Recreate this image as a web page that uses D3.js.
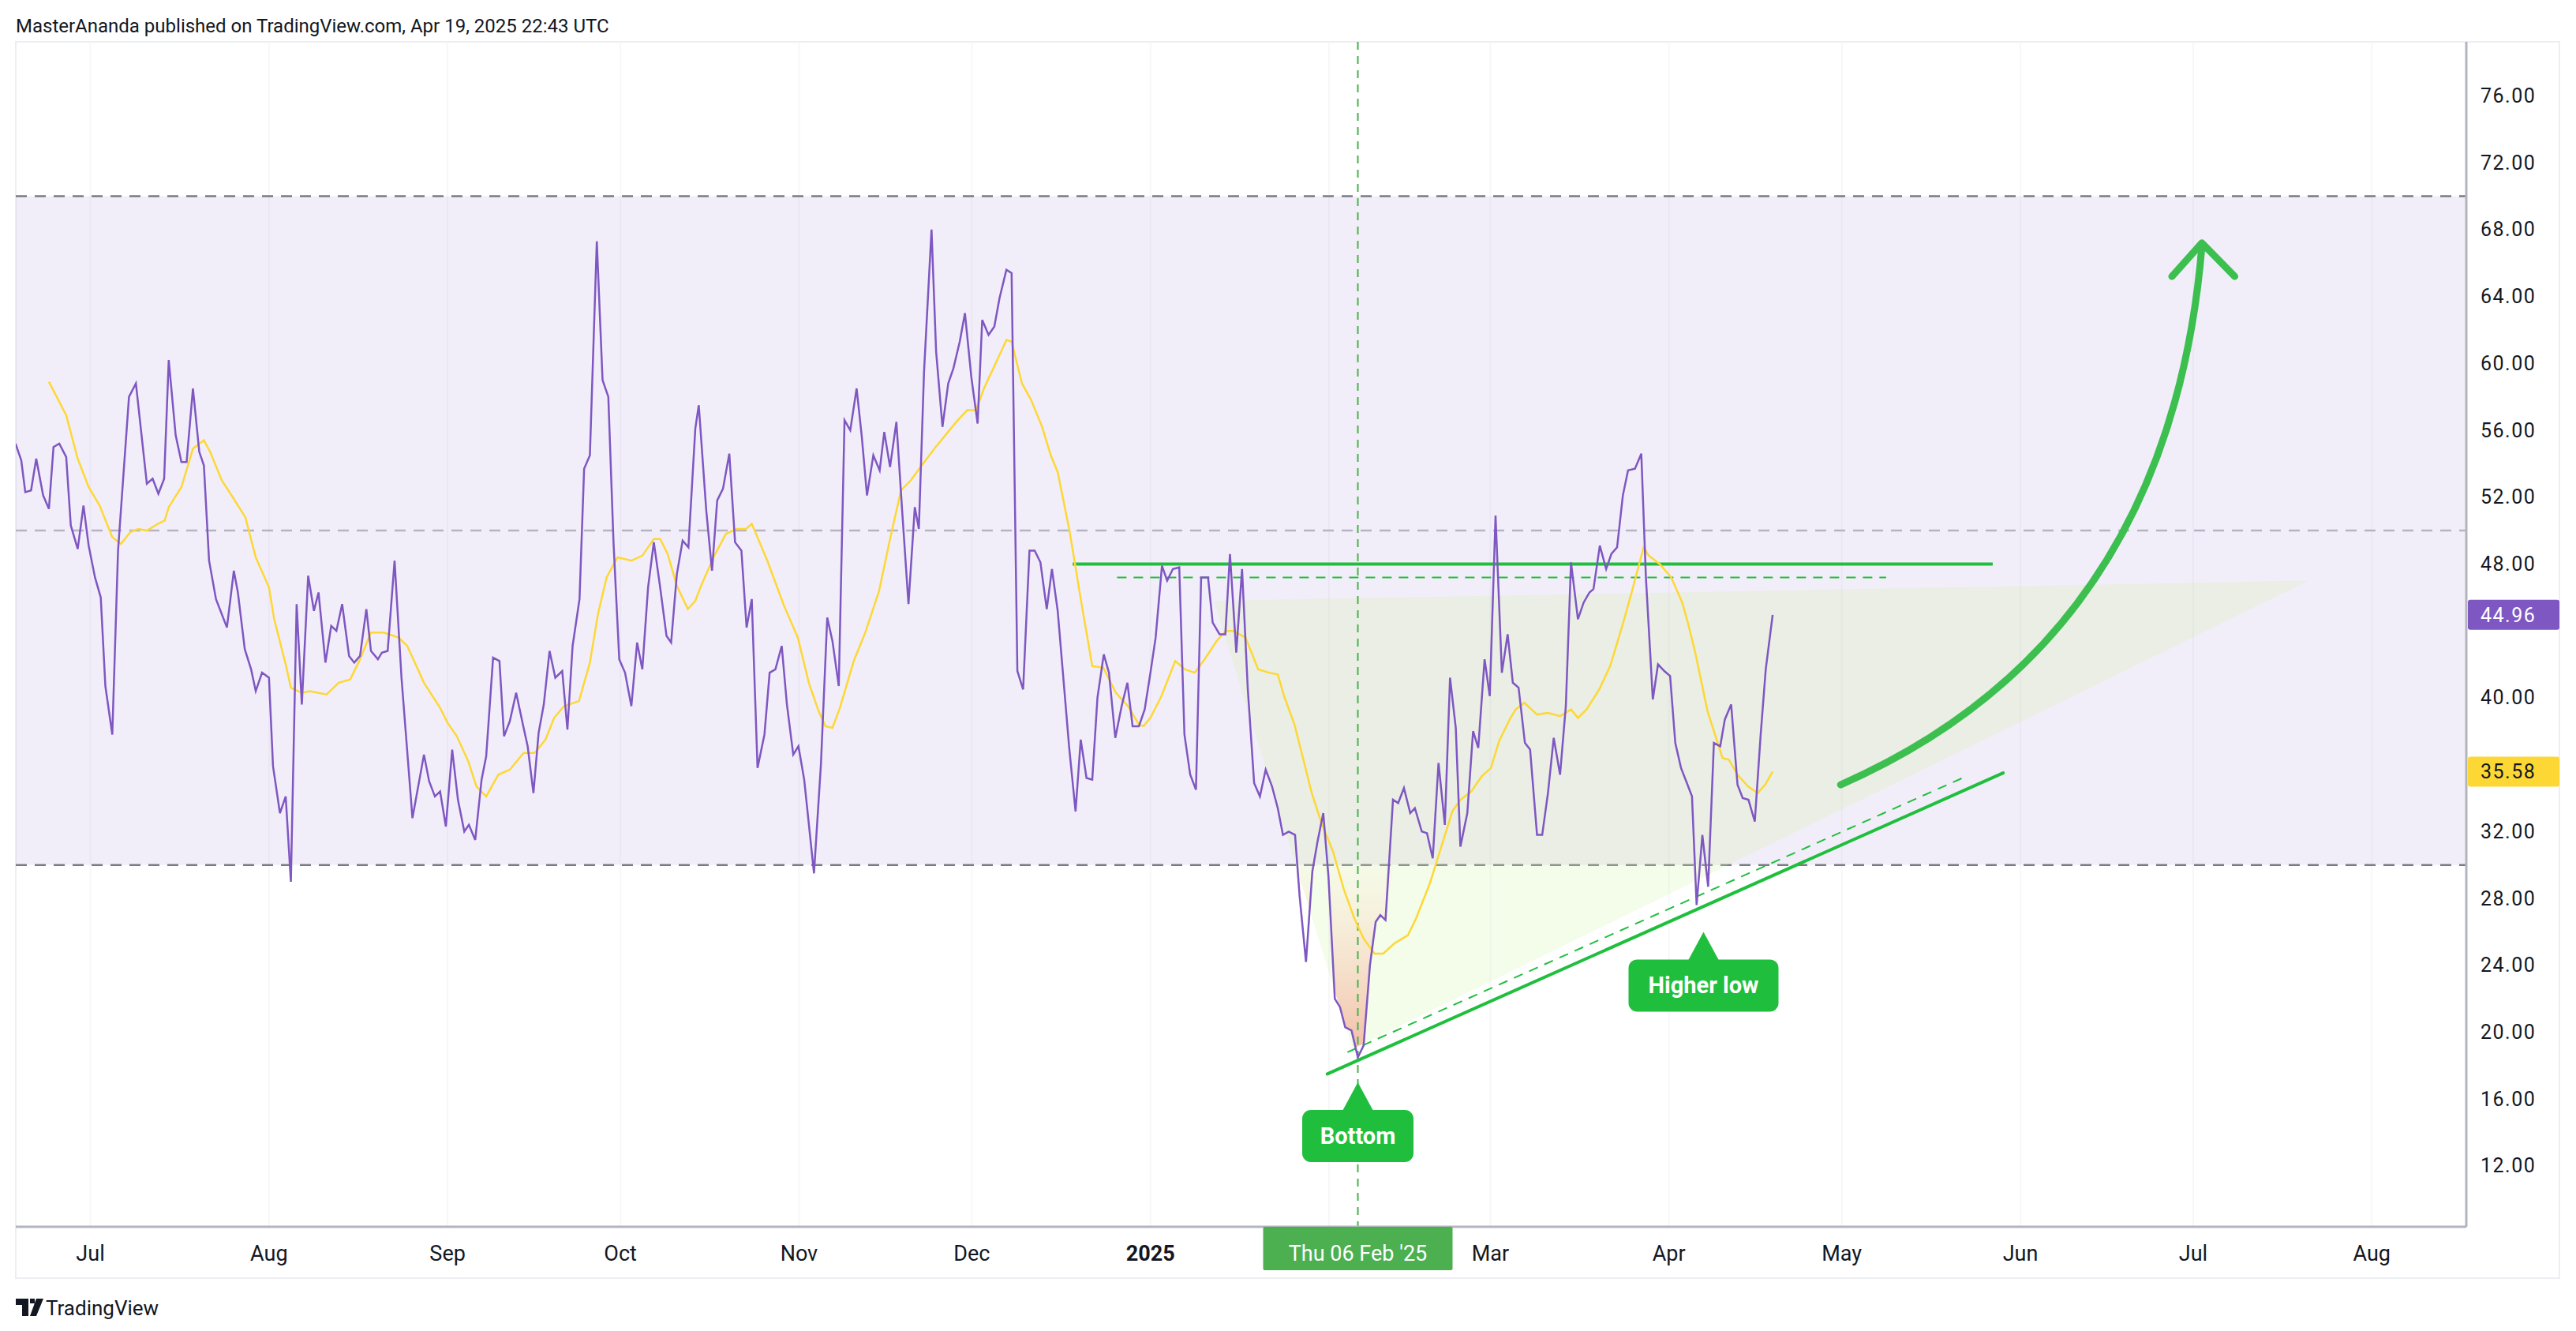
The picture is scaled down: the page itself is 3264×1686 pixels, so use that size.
<!DOCTYPE html>
<html>
<head>
<meta charset="utf-8">
<script src="https://cdn.jsdelivr.net/npm/d3@7"></script>
<style>
  body { margin: 0; background: #fff; }
  svg { display: block; }
  text { font-family: Roboto, "Noto Sans", sans-serif; }
</style>
</head>
<body>
<svg id="chart" width="3264" height="1686"></svg>
<script>
// day offsets are counted from 2024-07-01
var rsiDay = [-13,-12,-11.3,-10.3,-9.4,-8.2,-7.2,-6.4,-5.4,-4.2,-3.4,-2.2,-1.2,-0.3,0.8,1.8,2.6,3.8,4.8,6.7,7.9,9.8,10.8,11.8,12.8,13.6,14.8,15.8,16.7,17.8,18.9,19.7,20.6,21.8,23.7,24.9,25.6,26.8,27.9,28.7,29.8,31,31.7,32.9,33.9,34.8,35.8,36.7,37.8,38.8,39.6,40.8,41.8,42.7,43.7,44.9,45.8,46.8,47.9,48.7,49.9,50.6,51.6,52.8,54,55.9,56.9,57.9,58.8,59.8,60.7,61.7,62.8,63.8,64.9,65.7,66.8,67.9,68.7,69.9,71,71.8,72.8,73.9,75.2,75.9,76.9,77.8,78.7,79.7,80.7,81.9,82.8,83.7,84.9,85.7,86.7,87.9,88.9,89.9,90.8,91.8,92.8,93.9,94.9,95.8,96.8,97.8,98.9,100,100.8,101.8,102.8,103.8,105,105.6,106.9,107.9,108.8,109.8,110.9,111.9,113,113.9,114.8,115.8,117,117.9,118.9,120,120.9,122,122.9,123.9,125.6,126.8,127.9,128.8,129.9,130.9,131.9,133,133.9,134.8,135.9,137,137.8,138.8,139.9,140.9,142,143.1,143.8,144.7,146,146.8,147.9,148.9,149.8,150.9,151.8,152.9,154,154.8,155.9,156.9,157.8,159,159.9,160.9,161.9,163,163.9,164.9,166,166.9,167.9,169.9,171,171.9,172.9,173.9,174.8,175.9,176.8,177.9,179,180,180.9,182,183,184,184.9,186,186.9,187.9,189,189.9,190.9,191.9,192.8,194,194.8,196,197,197.8,198.9,199.9,200.9,202,203,204,205.1,206.1,207,208,209.1,209.9,211,212.1,213,214,214.9,216,216.9,217.8,218.9,220,221,222.1,223.1,223.9,224.8,226.1,227,228,229.1,229.9,231.1,232,233,234,235.1,236,237,237.8,239,240,240.9,242,242.9,243.9,245,246,246.9,247.9,249,249.9,251.1,252,253,254,255.1,256.1,257,258.2,259.2,260.2,260.9,262,263.1,264,265,266,266.9,268.1,269.2,270,271.2,272.1,273.2,274.2,275.1,276.1,277,278,278.8,279.8,280.8,281.8,282.9,283.7,284.8,285.9,286.8,287.8,288.9,289.9,290.8,292];
var rsiVal = [55.2,54.2,52.3,52.4,54.3,52.1,51.3,55,55.2,54.4,50.3,48.9,51.5,49.1,47.2,46,40.7,37.8,48.8,58,58.8,52.8,53.1,52.2,53.1,60.2,55.7,54.1,54.1,58.5,54.7,53.9,48.2,45.9,44.2,47.6,46.3,42.9,41.7,40.4,41.5,41.2,35.9,33.1,34.1,29,45.6,39.6,47.3,45.2,46.3,42.1,44.3,44,45.6,42.5,42.1,42.5,45.3,42.8,42.3,42.7,42.8,48.2,41.2,32.8,34.7,36.6,35,34.1,34.4,32.3,36.9,33.9,32,32.4,31.5,35.1,36.5,42.4,42.2,37.7,38.6,40.3,38.2,37.1,34.3,37.9,39.6,42.8,41.2,41.6,38.1,43.1,45.9,53.7,54.5,67.3,59,58,49.3,42.3,41.5,39.5,43.3,41.7,46.6,49.3,46.6,43.7,43.3,47.4,49.4,49,56.1,57.5,51.2,47.6,51.8,52.5,54.6,49.3,48.8,44.2,45.9,35.8,37.8,41.5,41.7,43.1,39.6,36.6,37.1,35.1,29.5,36,44.8,43.4,40.7,56.6,56,58.5,55.6,52.1,54.5,53.6,55.9,53.8,56.5,51.2,45.6,51.4,50.1,59.5,68,60.7,56.2,58.8,59.7,61.3,63,59.2,56.4,62.6,61.7,62.2,63.9,65.6,65.4,41.6,40.5,48.8,48.8,48.1,45.3,47.7,45.2,37,33.2,37.5,35.2,35.1,40,42.6,41.5,37.6,39.5,40.9,38.3,38.3,39.3,41.5,43.6,47.9,47,47.7,47.8,37.8,35.4,34.5,47.2,47.2,44.5,43.8,43.8,48.6,42.7,47.7,40.5,34.9,34.1,35.7,34.7,33.4,31.8,32,31.8,28.1,24.2,29.6,31.4,33.1,29.3,22,21.5,20.3,20.1,18.5,19.2,24,26.6,27,26.7,33.9,33.7,34.6,33.1,33.4,32,31.9,30.4,36.1,32.4,41.2,38.2,31.1,33.1,38,37,42.3,40.1,50.9,41.5,43.8,40.9,40.6,37.3,36.9,31.8,31.8,34.3,37.6,35.4,39.5,48.1,44.7,45.7,46.3,46.5,49.1,47.7,48.6,49,52.1,53.6,53.7,54.6,47.2,39.9,42,41.6,41.3,37.3,35.8,35,34.1,27.6,31.8,28.7,37.3,37.1,38.7,39.6,34.8,34,33.9,32.6,37.7,41.7,44.96];

var maDay = [-7.2,-4.2,-2.2,-0.3,1.6,3.8,5.3,6.9,8.3,9.8,11.7,12.9,13.6,15.8,17.8,19.7,20.8,22.8,24.7,26.9,28.7,31,31.9,33.9,34.8,36.7,38.1,41,43.1,45.1,46.8,48.7,50.9,53.5,55,57.9,60.7,62,63.6,65.6,67,68.7,70.8,72.8,75.2,77.1,79,80.5,82.2,84.8,86.7,88.1,89.6,91.5,93.9,95.8,97.8,98.9,100.2,101.8,103.7,105,106,108.3,110.3,112.2,113.8,114.8,117.5,120.4,122.8,124.7,126.4,127.6,128.8,130.1,132.5,134.5,136.9,138.8,140.7,142.4,144.1,146.5,148.4,150.3,152.2,153.7,155.1,157,159,159.9,161.7,163.3,165.2,166.7,167.9,170,172,173.9,175.8,178,180.1,182,182.8,184,185.9,188.3,190,191.7,193.6,195.5,197.1,198.4,200.5,202.7,204.6,206.1,207.2,209,210.4,212,213.8,215.7,217.6,219.4,221,222.9,224.4,226.3,228.7,230.1,232.5,234.5,236.4,237.8,239.7,241.5,243.1,244.5,246.5,247.4,248.9,251.1,253,255.1,257,258.2,259.7,261.9,263.8,265.9,267.6,269.6,270.5,272.4,274.4,276.3,277.2,278.5,280.7,283.3,284.4,285.9,287.7,289.4,290.7,292];
var maVal = [58.9,56.9,54.3,52.6,51.5,49.6,49.2,49.9,50.1,50,50.4,50.6,51.4,52.6,54.9,55.4,54.7,53,52,50.8,48.4,46.6,44.7,42,40.6,40.3,40.4,40.2,40.9,41.1,42.3,43.9,43.9,43.6,43.1,40.9,39.4,38.5,37.7,36.2,34.7,34.1,35.4,35.7,36.7,36.7,37.5,38.8,39.5,39.8,42.1,45,47.2,48.4,48.2,48.5,49.5,49.5,48.6,46.7,45.3,45.8,46.7,48.5,49.8,50.1,50.1,50.4,48.2,45.5,43.6,40.9,39.2,38.3,38.2,39.4,42.2,43.9,46.4,49.5,52.4,53,53.8,54.9,55.7,56.5,57.2,57.2,58.5,59.9,61.4,61.3,58.8,57.8,56.2,54.5,53.5,49.9,45.7,41.9,41.8,40.3,39.5,38.4,38.3,38.8,40.1,42.2,41.7,41.5,42.4,43.4,44,44,43.6,41.7,41.5,41.4,40.1,38.4,36.5,34.3,32.4,30.8,28.5,26.8,25.6,24.7,24.7,25.3,25.8,26.8,28.9,31.1,33.2,33.9,34.4,35.3,35.8,37.4,38.8,39.3,39.7,39,39.1,38.9,39.3,38.8,39.3,40.5,41.9,44.3,46.4,49,48.5,48,47.2,45.7,44.6,42.8,39.2,36.4,36.3,35.4,34.7,34.3,34.8,35.58];

var yTicks = [12,16,20,24,28,32,40,48,52,56,60,64,68,72,76];
var monthTicks = [
  {d: [2024,6,1], t: "Jul"}, {d: [2024,7,1], t: "Aug"}, {d: [2024,8,1], t: "Sep"},
  {d: [2024,9,1], t: "Oct"}, {d: [2024,10,1], t: "Nov"}, {d: [2024,11,1], t: "Dec"},
  {d: [2025,0,1], t: "2025", bold: true}, {d: [2025,1,1], t: "Feb", hide: true},
  {d: [2025,2,1], t: "Mar"}, {d: [2025,3,1], t: "Apr"}, {d: [2025,4,1], t: "May"},
  {d: [2025,5,1], t: "Jun"}, {d: [2025,6,1], t: "Jul"}, {d: [2025,7,1], t: "Aug"}
];
var crossDay = 220;       // Thu 06 Feb '25
var resistance = 48.0, resistance2 = 47.2;
var triangle = [[195, 45.8], [219.1, 19.0], [385, 47.0]];
var trendSolid = [[214.7, 17.5], [332, 35.5]];
var trendDash = [[218.2, 18.8], [325.6, 35.3]];
var arrowPath = [[303.8, 34.8], [360.8, 43.4], [366.5, 67.0]];
var arrowHead = [[361.3, 65.2], [366.5, 67.2], [372.2, 65.2]];
var labels = [{text: "Bottom", day: 220, v: 17.0}, {text: "Higher low", day: 280, v: 26.0}];

var T0 = Date.UTC(2024, 6, 1);
function dayDate(n) { return new Date(T0 + n * 864e5); }

var svg = d3.select("#chart");
var L = 20, R = 3125, TOP = 53, BOT = 1554;
var green = "#1fbf3d";

var x = d3.scaleTime().domain([dayDate(-12.95), dayDate(412.4)]).range([L, R]);
var y = d3.scaleLinear().domain([8.36, 79.23]).range([BOT, TOP]);
var X = function(n) { return x(dayDate(n)); };

var rsi = rsiDay.map(function(d, i) { return {d: d, v: rsiVal[i]}; });
var ma = maDay.map(function(d, i) { return {d: d, v: maVal[i]}; });

// header
svg.append("text").attr("x", 20).attr("y", 41).attr("font-size", 24).attr("fill", "#131722")
  .text("MasterAnanda published on TradingView.com, Apr 19, 2025 22:43 UTC");

// frame
svg.append("rect").attr("x", L).attr("y", TOP).attr("width", 3243 - L).attr("height", 1619 - TOP)
  .attr("fill", "none").attr("stroke", "#eceef2").attr("stroke-width", 2);

var defs = svg.append("defs");
defs.append("clipPath").attr("id", "plot").append("rect")
  .attr("x", L).attr("y", TOP).attr("width", R - L).attr("height", BOT - TOP);
defs.append("clipPath").attr("id", "tri").append("polygon")
  .attr("points", triangle.map(function(p) { return X(p[0]) + "," + y(p[1]); }).join(" "));
var grad = defs.append("linearGradient").attr("id", "pink")
  .attr("gradientUnits", "userSpaceOnUse").attr("x1", 0).attr("x2", 0).attr("y1", y(30)).attr("y2", y(18));
grad.append("stop").attr("offset", 0).attr("stop-color", "rgb(255,215,190)").attr("stop-opacity", 0.05);
grad.append("stop").attr("offset", 1).attr("stop-color", "rgb(240,165,140)").attr("stop-opacity", 0.8);

var g = svg.append("g").attr("clip-path", "url(#plot)");

// month grid
monthTicks.forEach(function(m) {
  var xx = x(new Date(Date.UTC(m.d[0], m.d[1], m.d[2])));
  g.append("line").attr("x1", xx).attr("x2", xx).attr("y1", TOP).attr("y2", BOT)
    .attr("stroke", "#f7f7fa").attr("stroke-width", 2);
});

// band 30-70
g.append("rect").attr("x", L).attr("width", R - L).attr("y", y(70)).attr("height", y(30) - y(70))
  .attr("fill", "rgba(126,87,194,0.1)");
[[70, "#787b86"], [50, "#b6b3c2"], [30, "#787b86"]].forEach(function(h) {
  g.append("line").attr("x1", L).attr("x2", R).attr("y1", y(h[0])).attr("y2", y(h[0]))
    .attr("stroke", h[1]).attr("stroke-width", 2.5).attr("stroke-dasharray", "14,10");
});

// triangle
g.append("polygon")
  .attr("points", triangle.map(function(p) { return X(p[0]) + "," + y(p[1]); }).join(" "))
  .attr("fill", "rgba(205,240,160,0.22)");

// oversold gradient inside triangle
g.append("path").datum(rsi).attr("clip-path", "url(#tri)")
  .attr("d", d3.area().x(function(d) { return X(d.d); }).y0(y(30))
    .y1(function(d) { return y(Math.min(d.v, 30)); }))
  .attr("fill", "url(#pink)");

// crosshair
g.append("line").attr("x1", X(crossDay)).attr("x2", X(crossDay)).attr("y1", TOP).attr("y2", BOT)
  .attr("stroke", "#4caf50").attr("stroke-width", 2).attr("stroke-dasharray", "10,8");

// resistance lines
g.append("line").attr("x1", X(170.5)).attr("x2", X(330.2)).attr("y1", y(resistance)).attr("y2", y(resistance))
  .attr("stroke", green).attr("stroke-width", 4);
g.append("line").attr("x1", X(178.2)).attr("x2", X(311.7)).attr("y1", y(resistance2)).attr("y2", y(resistance2))
  .attr("stroke", green).attr("stroke-width", 2).attr("stroke-dasharray", "12,9");

// trend lines
g.append("line").attr("x1", X(trendSolid[0][0])).attr("y1", y(trendSolid[0][1]))
  .attr("x2", X(trendSolid[1][0])).attr("y2", y(trendSolid[1][1]))
  .attr("stroke", green).attr("stroke-width", 4).attr("stroke-linecap", "round");
g.append("line").attr("x1", X(trendDash[0][0])).attr("y1", y(trendDash[0][1]))
  .attr("x2", X(trendDash[1][0])).attr("y2", y(trendDash[1][1]))
  .attr("stroke", green).attr("stroke-width", 2).attr("stroke-dasharray", "12,9");

// curved arrow
var ap = arrowPath.map(function(p) { return [X(p[0]), y(p[1])]; });
g.append("path").attr("d", "M" + ap[0] + "Q" + ap[1] + " " + ap[2])
  .attr("fill", "none").attr("stroke", "#3cbf4f").attr("stroke-width", 9).attr("stroke-linecap", "round");
g.append("path").attr("d", d3.line()(arrowHead.map(function(p) { return [X(p[0]), y(p[1])]; })))
  .attr("fill", "none").attr("stroke", "#3cbf4f").attr("stroke-width", 9)
  .attr("stroke-linecap", "round").attr("stroke-linejoin", "round");

// lines
var line = d3.line().x(function(d) { return X(d.d); }).y(function(d) { return y(d.v); });
g.append("path").datum(ma).attr("d", line).attr("fill", "none").attr("stroke", "#fdd835").attr("stroke-width", 2.5);
g.append("path").datum(rsi).attr("d", line).attr("fill", "none").attr("stroke", "#7e57c2").attr("stroke-width", 2.5);

// annotation labels
labels.forEach(function(l) {
  var tx = X(l.day), ty = y(l.v);
  var tw = l.text.length > 7 ? 190 : 141;
  var top = ty + 35;
  g.append("path").attr("d", "M" + (tx - 20) + "," + (top + 2) + "L" + tx + "," + ty + "L" + (tx + 20) + "," + (top + 2) + "Z")
    .attr("fill", green);
  g.append("rect").attr("x", tx - tw / 2).attr("y", top).attr("width", tw).attr("height", 66)
    .attr("rx", 11).attr("fill", green);
  g.append("text").attr("x", tx).attr("y", top + 43).attr("text-anchor", "middle")
    .attr("font-size", 29).attr("font-weight", 700).attr("fill", "#fff").text(l.text);
});

// right axis
svg.append("line").attr("x1", R).attr("x2", R).attr("y1", TOP).attr("y2", BOT)
  .attr("stroke", "#b2b5be").attr("stroke-width", 3);
svg.append("line").attr("x1", L).attr("x2", R).attr("y1", BOT).attr("y2", BOT)
  .attr("stroke", "#b2b5be").attr("stroke-width", 3);
var ya = svg.append("g").attr("transform", "translate(" + R + ",0)")
  .call(d3.axisRight(y).tickValues(yTicks).tickSize(0).tickPadding(18).tickFormat(d3.format(".2f")));
ya.select(".domain").remove();
ya.selectAll("text").attr("font-family", "DejaVu Sans").attr("font-size", 25).attr("fill", "#131722")
  .attr("letter-spacing", 1.5);

function tag(v, bg, fg) {
  var yy = y(v);
  svg.append("rect").attr("x", R + 2).attr("y", yy - 19).attr("width", 116).attr("height", 38)
    .attr("rx", 3).attr("fill", bg);
  svg.append("text").attr("x", R + 18).attr("y", yy + 9).attr("font-family", "DejaVu Sans")
    .attr("font-size", 25).attr("letter-spacing", 1.5).attr("fill", fg).text(d3.format(".2f")(v));
}
tag(rsiVal[rsiVal.length - 1], "#7e57c2", "#fff");
tag(maVal[maVal.length - 1], "#fdd835", "#131722");

// bottom axis labels
monthTicks.forEach(function(m) {
  if (m.hide) return;
  svg.append("text").attr("x", x(new Date(Date.UTC(m.d[0], m.d[1], m.d[2])))).attr("y", 1597)
    .attr("text-anchor", "middle").attr("font-size", 27).attr("font-weight", m.bold ? 700 : 400)
    .attr("fill", "#131722").text(m.t);
});
svg.append("rect").attr("x", X(crossDay) - 120).attr("y", BOT).attr("width", 240).attr("height", 55)
  .attr("rx", 2).attr("fill", "#4caf50");
svg.append("text").attr("x", X(crossDay)).attr("y", 1597).attr("text-anchor", "middle")
  .attr("font-size", 27).attr("fill", "#fff").text("Thu 06 Feb '25");

// footer logo mark
svg.append("path").attr("d", "M20,1645h16v22h-8v-14h-8z M38,1645h6v6h-6z M46,1645h9l-9,22h-8z")
  .attr("fill", "#131722");
svg.append("text").attr("x", 58).attr("y", 1666).attr("font-size", 26).attr("fill", "#131722")
  .text("TradingView");
</script>
</body>
</html>
